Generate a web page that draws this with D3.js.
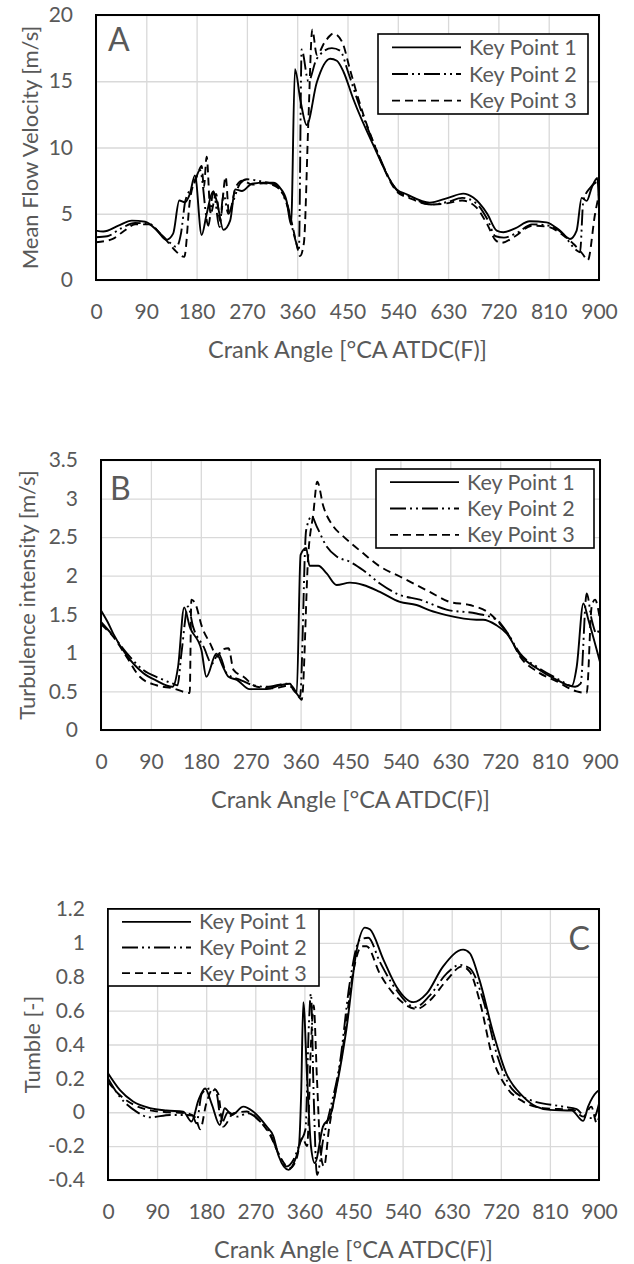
<!DOCTYPE html>
<html>
<head>
<meta charset="utf-8">
<script src="https://cdn.jsdelivr.net/npm/d3@7"></script>
<style>
  body { margin: 0; background: #fff; }
  text { font-family: Lato, "Open Sans", sans-serif; fill: #595959; }
</style>
</head>
<body>
<div id="chart"></div>
<script>
// crank angle ticks shared by all three panels
const angleTicks = [0, 90, 180, 270, 360, 450, 540, 630, 720, 810, 900];
const seriesNames = ["Key Point 1", "Key Point 2", "Key Point 3"];

// A: mean flow velocity [m/s], [angle, value]
const flowTicks = [0, 5, 10, 15, 20];
const flowKP1 = [[0,3.73],[13,3.66],[40,4.1],[64,4.48],[88,4.4],[110,3.7],[126,3.03],[138,3.5],[149,6.0],[159,5.87],[168,6.5],[177,7.9],[189,3.4],[198,4.98],[209,6.67],[216,5.97],[228,3.78],[240,4.48],[249,6.84],[261,6.72],[279,7.26],[300,7.35],[317,7.34],[329,6.97],[341,5.97],[349,4.18],[356,15.9],[366,13.5],[377,11.7],[395,14.9],[419,16.7],[431,16.55],[443,15.7],[460,13.7],[496,10.2],[538,6.84],[556,6.47],[597,5.84],[630,6.2],[657,6.52],[675,6.22],[700,5.0],[717,3.73],[729,3.6],[750,3.9],[776,4.43],[806,4.35],[830,3.73],[848,3.1],[860,3.73],[869,6.2],[878,5.97],[887,6.97],[897,7.7],[900,5.5]];
const flowKP2 = [[0,3.23],[20,3.3],[45,3.9],[70,4.3],[95,4.25],[115,3.5],[130,2.9],[144,2.5],[152,3.5],[160,6.0],[175,7.2],[186,8.3],[201,4.1],[210,6.7],[221,4.0],[228,6.5],[237,5.0],[246,6.0],[258,7.3],[270,7.6],[300,7.4],[320,7.2],[335,6.4],[345,5.2],[352,3.8],[359,2.7],[363,2.2],[368,17.4],[380,15.0],[395,16.7],[422,17.5],[437,17.3],[451,15.7],[470,13.3],[500,10.0],[540,6.7],[560,6.3],[600,5.7],[630,5.9],[655,6.2],[680,5.8],[700,4.6],[715,3.3],[730,3.2],[755,3.6],[780,4.2],[810,4.1],[835,3.5],[858,2.3],[866,2.1],[872,6.0],[885,7.0],[900,7.5]];
const flowKP3 = [[0,2.85],[30,3.1],[50,3.7],[70,4.2],[95,4.2],[115,3.5],[130,2.8],[140,2.3],[158,1.75],[168,6.0],[182,8.0],[189,8.6],[193,7.0],[198,9.3],[205,5.0],[215,6.5],[222,4.5],[232,7.8],[238,5.0],[250,7.0],[262,7.5],[280,7.2],[300,7.3],[320,7.1],[340,6.0],[352,4.0],[360,2.5],[365,1.8],[372,2.8],[380,12.0],[387,18.9],[395,17.0],[410,18.0],[425,18.6],[440,18.0],[455,15.8],[470,13.6],[500,10.0],[540,6.6],[560,6.2],[600,5.7],[630,5.8],[655,6.0],[680,5.5],[700,4.2],[715,3.0],[725,2.8],[750,3.3],[780,4.1],[810,4.0],[835,3.4],[855,2.7],[870,2.0],[880,1.5],[893,5.0],[900,6.5]];

// B: turbulence intensity [m/s]
const turbTicks = [0, 0.5, 1, 1.5, 2, 2.5, 3, 3.5];
const turbKP1 = [[0,1.55],[12,1.4],[22,1.25],[46,0.97],[76,0.74],[100,0.64],[129,0.56],[139,0.82],[150,1.59],[160,1.34],[181,1.04],[190,0.69],[208,0.99],[220,0.82],[230,0.69],[245,0.65],[268,0.53],[299,0.53],[323,0.58],[341,0.6],[347,0.52],[353,0.48],[360,2.27],[370,2.36],[376,2.13],[392,2.13],[407,2.03],[425,1.88],[449,1.91],[473,1.88],[503,1.79],[539,1.66],[569,1.62],[593,1.55],[623,1.49],[677,1.43],[689,1.43],[713,1.36],[732,1.25],[756,0.97],[786,0.80],[822,0.65],[849,0.57],[858,0.82],[870,1.64],[879,1.43],[900,0.88]];
const turbKP2 = [[0,1.4],[22,1.22],[46,1.0],[76,0.78],[106,0.67],[130,0.6],[138,0.58],[145,0.99],[157,1.6],[166,1.34],[185,1.08],[200,0.86],[212,0.99],[227,0.73],[251,0.65],[275,0.58],[299,0.56],[335,0.6],[350,0.5],[359,0.43],[370,2.59],[380,2.77],[389,2.64],[407,2.38],[425,2.25],[449,2.18],[473,2.07],[503,1.9],[539,1.75],[575,1.69],[623,1.56],[677,1.51],[713,1.43],[732,1.27],[756,0.99],[786,0.82],[822,0.67],[855,0.56],[865,0.6],[876,1.77],[885,1.43],[894,1.25],[900,1.34]];
const turbKP3 = [[0,1.37],[22,1.21],[46,0.95],[70,0.69],[100,0.58],[130,0.54],[160,0.48],[163,1.69],[170,1.64],[182,1.34],[197,1.12],[210,0.95],[218,1.04],[230,1.06],[239,0.78],[257,0.69],[281,0.56],[311,0.54],[341,0.58],[359,0.41],[362,0.39],[374,2.29],[383,2.81],[390,3.22],[401,2.9],[419,2.64],[437,2.51],[473,2.29],[503,2.12],[539,1.99],[593,1.79],[629,1.66],[665,1.62],[701,1.51],[719,1.38],[737,1.21],[756,0.95],[786,0.76],[822,0.63],[858,0.5],[876,0.48],[885,1.6],[891,1.69],[900,1.43]];

// C: tumble [-]
const tumbleTicks = [-0.4, -0.2, 0, 0.2, 0.4, 0.6, 0.8, 1, 1.2];
const tumbleKP1 = [[0,0.23],[22,0.13],[46,0.063],[77,0.024],[107,0.01],[138,0.004],[153,-0.055],[166,0.073],[178,0.14],[190,0.05],[205,-0.075],[214,0.024],[227,-0.016],[248,0.033],[266,0.004],[291,-0.085],[303,-0.14],[313,-0.26],[331,-0.34],[343,-0.28],[350,-0.2],[354,0.1],[358,0.65],[365,0.2],[372,-0.2],[379,-0.3],[394,-0.085],[407,-0.026],[419,0.15],[437,0.49],[456,0.96],[471,1.09],[480,1.08],[505,0.9],[529,0.74],[560,0.65],[584,0.70],[614,0.86],[651,0.96],[663,0.94],[681,0.78],[706,0.47],[730,0.23],[761,0.092],[785,0.033],[810,0.014],[850,0.01],[871,-0.051],[880,0.033],[896,0.12],[900,0.13]];
const tumbleKP2 = [[0,0.2],[22,0.09],[52,0.004],[77,-0.03],[114,-0.016],[141,-0.016],[155,-0.02],[162,-0.065],[172,0.11],[187,0.14],[199,0.11],[208,-0.065],[220,0.0],[236,-0.026],[257,-0.006],[279,-0.055],[297,-0.124],[312,-0.24],[327,-0.32],[340,-0.28],[352,-0.18],[362,-0.1],[368,0.5],[372,0.70],[377,0.1],[383,-0.37],[395,-0.15],[407,0.014],[425,0.29],[443,0.76],[462,1.02],[477,1.03],[498,0.89],[529,0.72],[563,0.62],[590,0.69],[621,0.82],[645,0.87],[663,0.85],[688,0.66],[712,0.35],[740,0.14],[773,0.073],[835,0.033],[859,0.018],[874,-0.026],[890,-0.035],[900,0.05]];
const tumbleKP3 = [[0,0.18],[22,0.1],[50,0.04],[80,0.01],[110,0.0],[144,-0.006],[160,-0.03],[169,-0.1],[180,0.05],[193,0.14],[202,0.11],[211,-0.085],[230,-0.006],[254,0.004],[279,-0.055],[297,-0.134],[315,-0.26],[333,-0.33],[345,-0.28],[356,-0.15],[365,-0.2],[372,0.4],[377,0.63],[383,0.2],[390,-0.25],[396,-0.32],[405,-0.1],[413,0.053],[431,0.39],[449,0.82],[465,0.98],[474,0.98],[498,0.82],[529,0.68],[566,0.61],[590,0.66],[621,0.78],[648,0.86],[663,0.83],[681,0.66],[706,0.31],[730,0.15],[761,0.063],[798,0.024],[853,0.014],[871,-0.026],[886,0.033],[896,-0.065],[900,-0.03]];

// line styles: solid, long dash-dot-dot, dash
const dashes = [null, "16,4,2,4,2,4", "8,5"];

const panels = [
  { label: "A", yTitle: "Mean Flow Velocity [m/s]", ticks: flowTicks, series: [flowKP1, flowKP2, flowKP3],
    left: 96, right: 599, top: 15, bottom: 280, titleX: 30,
    labelPos: [108, 51, "start"], legend: [378, 34, 210, 80] },
  { label: "B", yTitle: "Turbulence intensity [m/s]", ticks: turbTicks, series: [turbKP1, turbKP2, turbKP3],
    left: 101, right: 600, top: 460, bottom: 730, titleX: 27,
    labelPos: [110, 500, "start"], legend: [376, 469, 218, 79] },
  { label: "C", yTitle: "Tumble [-]", ticks: tumbleTicks, series: [tumbleKP1, tumbleKP2, tumbleKP3],
    left: 108, right: 599, top: 909, bottom: 1180, titleX: 32,
    labelPos: [590, 950, "end"], legend: [108, 909, 211, 77] }
];

const svg = d3.select("#chart").append("svg")
  .attr("width", 634).attr("height", 1264);

panels.forEach(drawPanel);

function drawPanel(p) {
  let x = d3.scaleLinear().domain([0, 900]).range([p.left, p.right]);
  let y = d3.scaleLinear().domain(d3.extent(p.ticks)).range([p.bottom, p.top]);
  let g = svg.append("g");

  // gridlines
  g.append("g")
    .attr("transform", "translate(0," + p.bottom + ")")
    .call(d3.axisBottom(x).tickValues(angleTicks).tickSize(-(p.bottom - p.top)).tickFormat(""))
    .call(a => a.select(".domain").remove())
    .call(a => a.selectAll("line").attr("stroke", "#d9d9d9").attr("stroke-width", 1.3));
  g.append("g")
    .attr("transform", "translate(" + p.left + ",0)")
    .call(d3.axisLeft(y).tickValues(p.ticks).tickSize(-(p.right - p.left)).tickFormat(""))
    .call(a => a.select(".domain").remove())
    .call(a => a.selectAll("line").attr("stroke", "#d9d9d9").attr("stroke-width", 1.3));

  // tick labels
  g.append("g")
    .attr("transform", "translate(0," + p.bottom + ")")
    .call(d3.axisBottom(x).tickValues(angleTicks).tickSize(0).tickPadding(24))
    .call(a => a.select(".domain").remove())
    .call(a => a.selectAll("text").style("font-size", "21px").attr("fill", "#595959"));
  g.append("g")
    .attr("transform", "translate(" + p.left + ",0)")
    .call(d3.axisLeft(y).tickValues(p.ticks).tickSize(0).tickPadding(23).tickFormat(d => String(d)))
    .call(a => a.select(".domain").remove())
    .call(a => a.selectAll("text").style("font-size", "21px").attr("fill", "#595959"));

  // plot border
  g.append("rect")
    .attr("x", p.left).attr("y", p.top)
    .attr("width", p.right - p.left).attr("height", p.bottom - p.top)
    .attr("fill", "none").attr("stroke", "#000").attr("stroke-width", 2);

  // series
  let line = d3.line()
    .x(d => x(d[0]))
    .y(d => y(d[1]))
    .curve(d3.curveMonotoneX);

  g.append("g").selectAll("path")
    .data(p.series)
    .join("path")
    .attr("d", line)
    .attr("fill", "none")
    .attr("stroke", "#000")
    .attr("stroke-width", 1.9)
    .attr("stroke-dasharray", (d, i) => dashes[i]);

  // axis titles
  g.append("text")
    .attr("x", (p.left + p.right) / 2)
    .attr("y", p.bottom + 70)
    .attr("dy", "0.35em")
    .attr("text-anchor", "middle")
    .style("font-size", "23.5px")
    .text("Crank Angle [°CA ATDC(F)]");

  g.append("text")
    .attr("transform", "translate(" + p.titleX + "," + ((p.top + p.bottom) / 2) + ") rotate(-90)")
    .attr("dy", "0.35em")
    .attr("text-anchor", "middle")
    .style("font-size", "22px")
    .text(p.yTitle);

  // panel letter
  g.append("text")
    .attr("x", p.labelPos[0]).attr("y", p.labelPos[1])
    .attr("text-anchor", p.labelPos[2])
    .style("font-size", "32px")
    .text(p.label);

  // legend
  let [lx, ly, lw, lh] = p.legend;
  let legend = g.append("g").attr("transform", "translate(" + lx + "," + ly + ")");
  legend.append("rect")
    .attr("width", lw).attr("height", lh)
    .attr("fill", "#fff").attr("stroke", "#000").attr("stroke-width", 1.6);

  let rowH = lh / 3;
  let items = legend.selectAll(".item")
    .data(seriesNames)
    .join("g")
    .attr("class", "item")
    .attr("transform", (d, i) => "translate(0," + (rowH * (i + 0.5)) + ")");

  items.append("line")
    .attr("x1", 14).attr("x2", 83)
    .attr("stroke", "#000").attr("stroke-width", 1.9)
    .attr("stroke-dasharray", (d, i) => dashes[i]);

  items.append("text")
    .attr("x", 91)
    .attr("dy", "0.35em")
    .style("font-size", "21.5px")
    .text(d => d);
}
</script>
</body>
</html>
